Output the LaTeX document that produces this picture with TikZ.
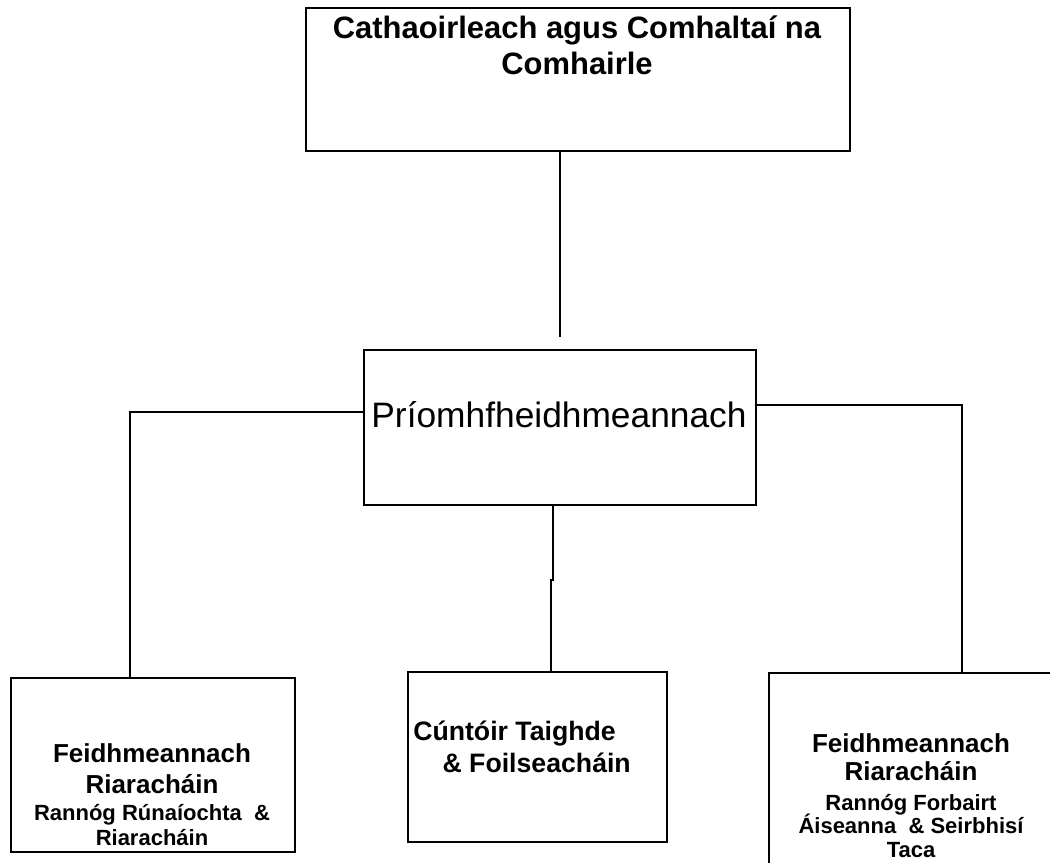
\documentclass[tikz,border=0pt]{standalone}
\usepackage{fontspec}
\setmainfont{Liberation Sans}
\usepackage{tikz}

\newcommand{\topsz}{\fontsize{23.2}{27}\selectfont}
\newcommand{\midsz}{\fontsize{26.5}{30}\selectfont}
\newcommand{\bigsz}{\fontsize{19.5}{23}\selectfont}
\newcommand{\smsz}{\fontsize{16.5}{19.5}\selectfont}

\begin{document}
\begin{tikzpicture}[x=0.75pt,y=-0.75pt]
			\tikzstyle{box} = [draw, line width=1.3pt, rectangle, inner sep=0pt, anchor=north west]
			\tikzstyle{txt} = [inner sep=0pt, align=center, anchor=base, font=\bfseries\bigsz]
			\useasboundingbox (0,0) rectangle (1050,863);
			\begin{scope}
			\clip (0,0) rectangle (1050,863);
			\node [box, minimum width=544*0.75pt, minimum height=143*0.75pt] (top) at (305,7) {};
			\node [box, minimum width=392*0.75pt, minimum height=155*0.75pt] (chief) at (363,349) {};
			\node [box, minimum width=284*0.75pt, minimum height=174*0.75pt] (admA) at (10,677) {};
			\node [box, minimum width=259*0.75pt, minimum height=170*0.75pt] (res) at (407,671) {};
			\node [box, minimum width=300*0.75pt, minimum height=220*0.75pt] (admB) at (768,672) {};
			\end{scope}
			
			% texts: anchored at the baseline of their last line
			\node [txt, font=\bfseries\topsz] (topt) at (577,75) {Cathaoirleach agus Comhaltaí na\\ Comhairle};
			\node [inner sep=0pt, anchor=base, font=\midsz] (chieft) at (559,427) {Príomhfheidhmeannach};
			\node [txt] (admAt) at (152,845) {Feidhmeannach\\ Riaracháin\\[-2.75pt] \smsz Rannóg Rúnaíochta\ \ \&\\[-4.25pt] \smsz Riaracháin};
			\node [txt, align=left, anchor=base west, font=\bfseries\fontsize{20}{23}\selectfont] (rest) at (413,772) {Cúntóir Taighde\\[1pt] \hspace*{22pt}\& Foilseacháin};
			\node [txt] (admBt) at (911,857) {Feidhmeannach\\[-2pt] Riaracháin\\[-0.5pt] \smsz Rannóg Forbairt\\[-5.75pt] \smsz Áiseanna\ \ \& Seirbhisí\\[-5pt] \smsz Taca};
			
			\coordinate (c1) at (560,337);
			\coordinate (c2) at (553,580);
			\coordinate (c3) at (551,580);
			\coordinate (c4) at (130,412);
			\coordinate (c5) at (962,405);
			
			\draw [line width=1.3pt] (top.south -| c1) -- (c1);
			\draw [line width=1.3pt] (chief.south -| c2) -- (c2) -- (c3) -- (res.north -| c3);
			\draw [line width=1.3pt] (chief.west |- c4) -- (c4) -- (admA.north -| c4);
			\draw [line width=1.3pt] (chief.east |- c5) -- (c5) -- (admB.north -| c5);
			
		\end{tikzpicture}
\end{document}
